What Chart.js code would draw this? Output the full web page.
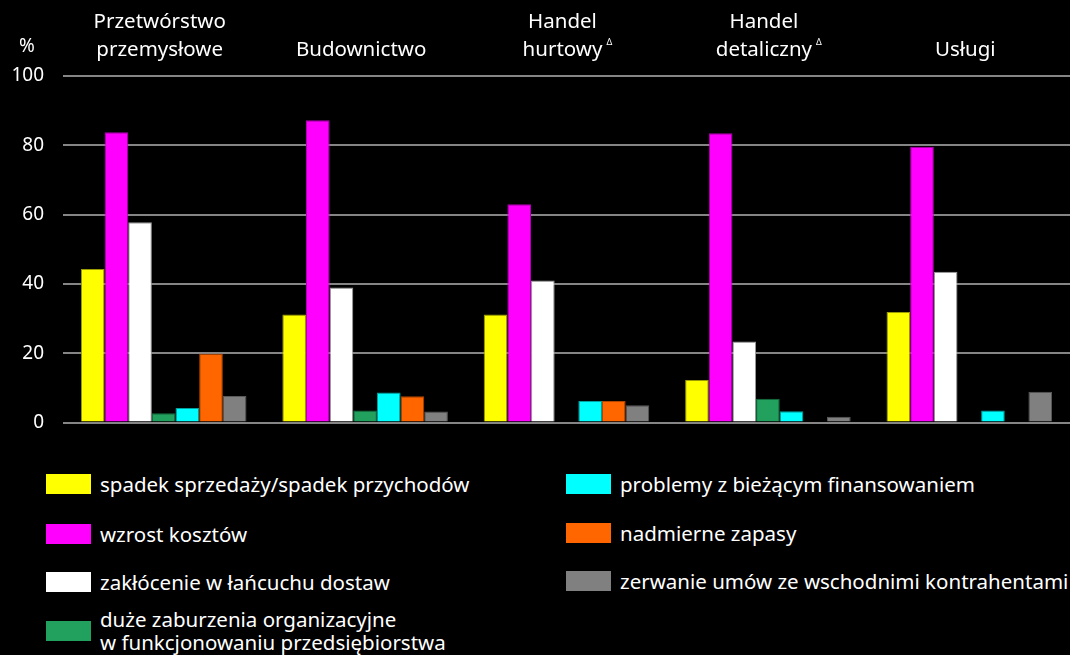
<!DOCTYPE html>
<html>
<head>
<meta charset="utf-8">
<script src="https://cdn.jsdelivr.net/npm/chart.js@4.4.0/dist/chart.umd.min.js"></script>
<style>
  html, body { margin: 0; padding: 0; background: #000; }
  body { width: 1070px; height: 655px; position: relative; overflow: hidden; font-family: "Noto Sans", sans-serif; color: #fff; }
  #wrap { position: absolute; left: 0; top: 0; width: 1070px; height: 453px; }
  .legend { position: absolute; font-size: 20.5px; line-height: 23px; }
  .item { position: absolute; display: flex; align-items: center; white-space: nowrap; }
  .box { width: 45px; height: 20px; margin-right: 9px; flex: none; }
</style>
</head>
<body>
<div id="wrap"><canvas id="chart" width="1070" height="453"></canvas></div>
<div id="legend"></div>
<script>
const categories = [
  ["Przetwórstwo", "przemysłowe"],
  ["Budownictwo"],
  ["Handel", "hurtowy"],
  ["Handel", "detaliczny"],
  ["Usługi"]
];
const markedCategories = [2, 3]; // small delta after the label
const yTicks = [0, 20, 40, 60, 80, 100];

const seriesNames = [
  "spadek sprzedaży/spadek przychodów",
  "wzrost kosztów",
  "zakłócenie w łańcuchu dostaw",
  ["duże zaburzenia organizacyjne", "w funkcjonowaniu przedsiębiorstwa"],
  "problemy z bieżącym finansowaniem",
  "nadmierne zapasy",
  "zerwanie umów ze wschodnimi kontrahentami"
];
const spadekSprzedazy = [44.3, 31.2, 31.2, 12.3, 31.9];
const wzrostKosztow = [83.8, 87.2, 63.0, 83.5, 79.6];
const zaklocenieDostaw = [57.8, 39.0, 41.0, 23.4, 43.5];
const zaburzeniaOrg = [2.7, 3.5, null, 6.9, null];
const problemyFinans = [4.2, 8.7, 6.2, 3.3, 3.5];
const nadmierneZapasy = [19.9, 7.6, 6.2, null, null];
const zerwanieUmow = [7.7, 3.2, 5.0, 1.7, 8.9];

const seriesValues = [spadekSprzedazy, wzrostKosztow, zaklocenieDostaw, zaburzeniaOrg,
  problemyFinans, nadmierneZapasy, zerwanieUmow];
const fills = ["#ffff00", "#ff00ff", "#ffffff", "#22a05e", "#00ffff", "#ff6600", "#808080"];
const edges = ["#9c9c00", "#b000b0", "#9a9a9a", "#157040", "#00a0a0", "#b04600", "#5a5a5a"];

const FONT = '"Noto Sans", sans-serif';

const headerPlugin = {
  id: "header",
  afterDraw(chart) {
    const ctx = chart.ctx;
    const x = chart.scales.x;
    ctx.save();
    ctx.fillStyle = "#fff";
    ctx.font = "20.5px " + FONT;
    ctx.textAlign = "center";
    ctx.textBaseline = "middle";
    categories.forEach((lines, i) => {
      const cx = x.getPixelForValue(i) - 4;
      const ys = lines.length === 2 ? [22, 50] : [50];
      lines.forEach((t, j) => ctx.fillText(t, cx, ys[j]));
      if (markedCategories.includes(i)) {
        const w = ctx.measureText(lines[1]).width;
        ctx.save();
        ctx.font = "9px " + FONT;
        ctx.textAlign = "left";
        ctx.fillText("Δ", cx + w / 2 + 4, 42);
        ctx.restore();
      }
    });
    ctx.font = "19px " + FONT;
    ctx.textAlign = "center";
    ctx.fillText("%", 27, 47);
    ctx.restore();
  }
};

new Chart(document.getElementById("chart"), {
  type: "bar",
  data: {
    labels: categories.map((c) => c.join(" ")),
    datasets: seriesValues.map((vals, i) => ({
      label: Array.isArray(seriesNames[i]) ? seriesNames[i].join(" ") : seriesNames[i],
      data: vals,
      backgroundColor: fills[i],
      borderColor: edges[i],
      borderWidth: 1,
      barPercentage: 1,
      categoryPercentage: 0.822
    }))
  },
  options: {
    responsive: false,
    animation: false,
    devicePixelRatio: 1,
    layout: { padding: { top: 76, right: 0, bottom: 5, left: 0 } },
    plugins: { legend: { display: false }, tooltip: { enabled: false } },
    scales: {
      x: { display: false },
      y: {
        min: 0,
        max: 100,
        afterBuildTicks: (s) => { s.ticks = yTicks.map((v) => ({ value: v })); },
        afterFit: (s) => { s.width = 63; },
        border: { display: false },
        grid: { color: "#858585", lineWidth: 2, drawTicks: false },
        ticks: { color: "#fff", font: { family: FONT, size: 19 }, padding: 19 }
      }
    }
  },
  plugins: [headerPlugin]
});

// legend in two columns, laid out like the original
const legendPos = [
  [46, 484], [46, 534], [46, 582], [46, 631],
  [566, 484], [566, 533], [566, 581]
];
const legend = document.getElementById("legend");
seriesNames.forEach((name, i) => {
  const item = document.createElement("div");
  item.className = "item legend";
  const box = document.createElement("span");
  box.className = "box";
  box.style.background = fills[i];
  const txt = document.createElement("span");
  txt.innerHTML = Array.isArray(name) ? name.join("<br>") : name;
  item.appendChild(box);
  item.appendChild(txt);
  item.style.left = legendPos[i][0] + "px";
  item.style.top = (legendPos[i][1] - (Array.isArray(name) ? 23 : 11.5)) + "px";
  legend.appendChild(item);
});
</script>
</body>
</html>
